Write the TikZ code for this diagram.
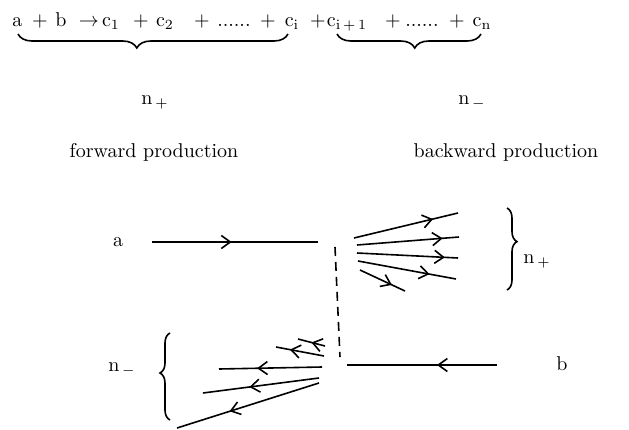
\documentclass[tikz,border=0pt]{standalone}
\usepackage{amsmath}
\usetikzlibrary{arrows.meta, decorations.markings, decorations.pathreplacing}

\newcommand{\dotrun}{......}
\tikzset{
  track/.style={line width=0.8pt},
  midarrow/.style={track, postaction={decorate, decoration={markings,
      mark=at position #1 with {\arrow{Straight Barb[length=4.5pt,width=6.5pt,line width=0.8pt]}}}}},
  curly/.style n args={2}{line width=0.8pt, decorate,
      decoration={brace, amplitude=#1, aspect=#2}},
}

\begin{document}
\begin{tikzpicture}[x=0.5pt, y=-0.5pt, >=stealth]
  \useasboundingbox (0,0) rectangle (629,430);

  % Reaction line
  \foreach \x/\t [count=\i] in {17/\mathrm{a}, 40/+, 61/\mathrm{b}, 89/\to,
      111/\mathrm{c}_1, 141/+, 165/\mathrm{c}_2, 202/+, 234/\dotrun, 268/+,
      292/\mathrm{c}_\mathrm{i}, 318/+, 347/{\mathrm{c}_{\mathrm{i}\,+\,1}},
      393/+, 422/\dotrun, 457/+, 482/\mathrm{c}_\mathrm{n}}
    \node[anchor=base, inner sep=0pt] (r\i) at (\x,26) {$\t$};

  % Braces under the reaction
  \draw[curly={7pt}{0.56}] (288,34) -- (18,34);
  \draw[curly={7pt}{0.46}] (481,34) -- (337,34);
  \node (nplus) at (155,103) {$\mathrm{n}_{\,+}$};
  \node (nminus) at (472,103) {$\mathrm{n}_{\,-}$};
  \node (fwd) at (154,152) {forward production};
  \node (bwd) at (506,152) {backward production};

  % Incoming a
  \node (a) at (118,242) {a};
  \coordinate (ain) at (152,242);
  \coordinate (aout) at (318,242);
  \draw[midarrow=0.48] (ain) -- (aout);

  % Dashed separation
  \draw[track, dash pattern=on 4.5pt off 3pt] (335,247) -- (340,357);

  % Forward fan
  \foreach \sx/\sy/\ex/\ey/\p in {354/238/458/213/0.76, 357/245/459/237/0.84,
      357/253/458/258/0.87, 358/261/456/279/0.73, 360/270/405/291/0.71}
    \draw[midarrow=\p] (\sx,\sy) -- (\ex,\ey);
  \draw[curly={5pt}{0.41}] (507,208) -- (507,290);
  \node (nplusr) at (537,262) {$\mathrm{n}_{\,+}$};

  % Incoming b
  \node (b) at (562,364) {b};
  \coordinate (bin) at (497,365);
  \coordinate (bout) at (347,365);
  \draw[midarrow=0.4] (bin) -- (bout);

  % Backward fan
  \foreach \sx/\sy/\ex/\ey/\p in {325/346/298/339/0.5, 324/356/276/347/0.71,
      322/367/219/369/0.63, 319/378/203/393/0.6, 319/383/177/428/0.63}
    \draw[midarrow=\p] (\sx,\sy) -- (\ex,\ey);
  \draw[curly={5pt}{0.54}] (170,420) -- (170,333);
  \node (nminusl) at (122,370) {$\mathrm{n}_{\,-}$};
\end{tikzpicture}
\end{document}
